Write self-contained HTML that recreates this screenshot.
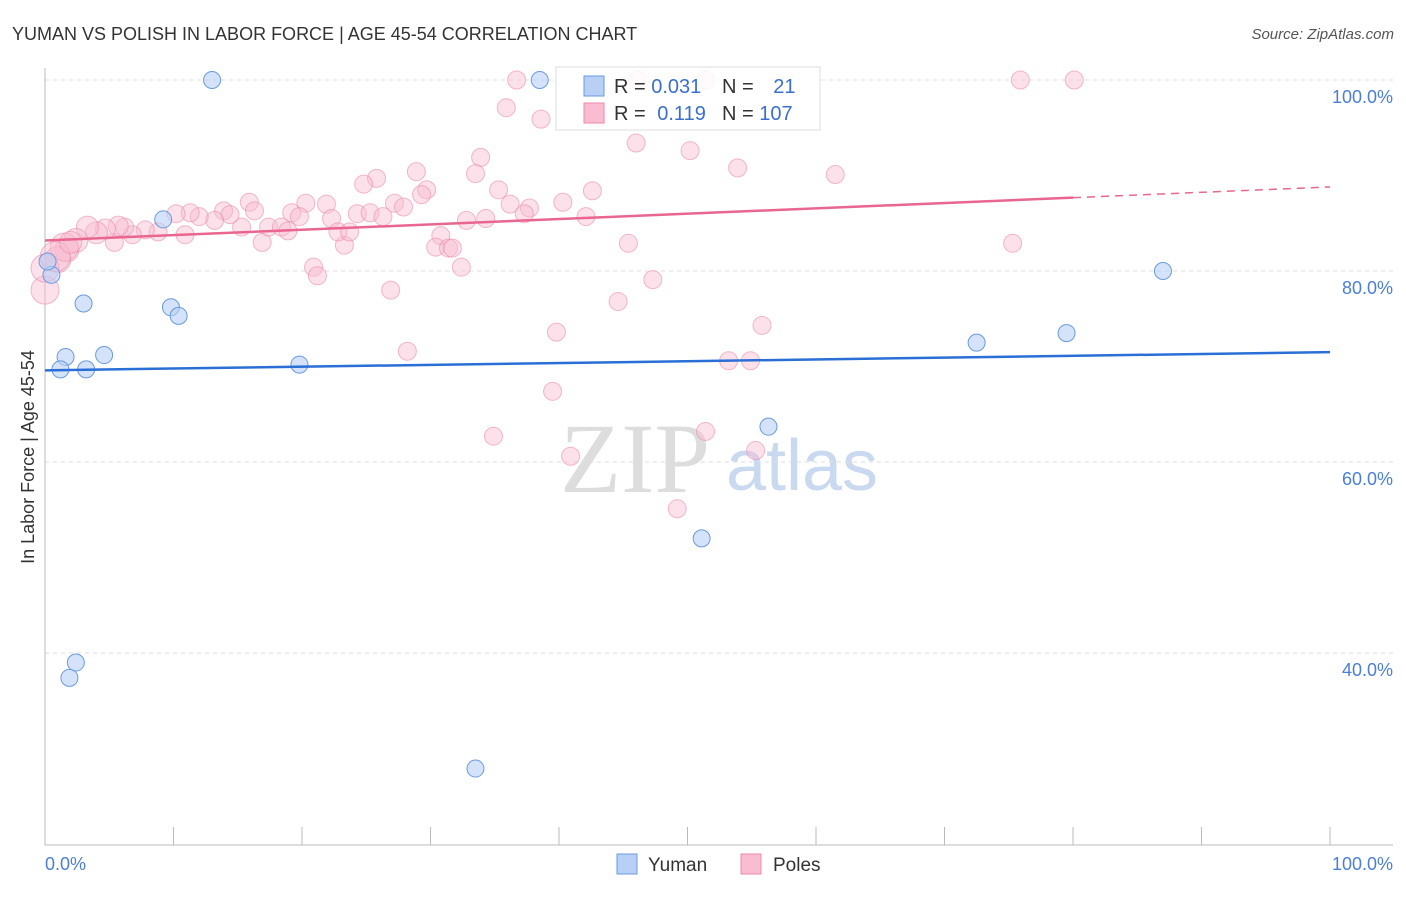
<!DOCTYPE html>
<html><head><meta charset="utf-8"><style>
body{margin:0;background:#fff;font-family:"Liberation Sans",sans-serif}
svg text{font-family:"Liberation Sans",sans-serif}
</style></head><body>
<svg id="c" width="1406" height="892" xmlns="http://www.w3.org/2000/svg">
<text x="12" y="40" font-size="18" fill="#333">YUMAN VS POLISH IN LABOR FORCE | AGE 45-54 CORRELATION CHART</text>
<text x="1394" y="39" font-size="15" fill="#555" text-anchor="end" font-style="italic">Source: ZipAtlas.com</text>
<text x="635" y="492" font-size="100" fill="#ddd" text-anchor="middle" style="font-family:'Liberation Serif',serif">ZIP</text>
<text x="802" y="490" font-size="72" fill="#c9d9f0" text-anchor="middle">atlas</text>
<text transform="translate(34,457) rotate(-90)" font-size="18" fill="#333" text-anchor="middle">In Labor Force | Age 45-54</text>
<g id="grid"></g><g id="pts"></g><g id="lines"></g>
<g>
<rect x="556" y="67" width="264" height="63" fill="#fff" fill-opacity="0.85" stroke="#ddd"/>
<rect x="584" y="76" width="20" height="20" fill="#b8d0f5" stroke="#6a9ae0"/>
<rect x="584" y="103" width="20" height="20" fill="#f9bcd0" stroke="#ec8aaa"/>
<text x="614" y="93" font-size="20" fill="#333">R = <tspan fill="#3a6fd0">0.031</tspan></text>
<text x="722" y="93" font-size="20" fill="#333">N = <tspan fill="#3a6fd0" dx="14">21</tspan></text>
<text x="614" y="120" font-size="20" fill="#333">R = <tspan fill="#3a6fd0" dx="6">0.119</tspan></text>
<text x="722" y="120" font-size="20" fill="#333">N = <tspan fill="#3a6fd0">107</tspan></text>
</g>
<g>
<rect x="617" y="854" width="20" height="20" fill="#b8d0f5" stroke="#6a9ae0"/>
<text x="648" y="871" font-size="19" fill="#333">Yuman</text>
<rect x="741" y="854" width="20" height="20" fill="#f9bcd0" stroke="#ec8aaa"/>
<text x="773" y="871" font-size="19" fill="#333">Poles</text>
</g>
</svg>
<script>
const yTicks=[100,80,60,40];
const yTickLabels=["100.0%","80.0%","60.0%","40.0%"];
const yumanX=[13.0,38.5,0.5,3.0,9.8,10.4,1.6,4.6,1.2,3.2,19.8,72.5,79.5,87.0,56.3,51.1,2.4,1.9,33.5,9.2,0.2];
const yumanY=[100,100,79.6,76.6,76.2,75.3,71.0,71.2,69.7,69.7,70.2,72.5,73.5,80.0,63.7,52.0,39.0,37.4,27.9,85.4,81.0];
const polesX=[36.7,35.9,38.6,46.0,50.2,33.9,33.5,28.9,25.8,24.8,29.7,29.3,35.3,42.6,36.2,37.7,37.3,40.3,42.1,32.8,34.3,21.9,20.3,22.3,24.3,25.3,26.3,27.2,27.9,30.8,30.4,31.4,31.7,32.4,45.4,47.3,44.6,39.8,28.2,26.9,20.9,21.2,39.5,23.3,22.8,23.7,15.9,16.3,16.9,19.2,19.8,17.4,18.4,18.9,10.9,15.3,13.9,14.4,13.2,12.0,11.3,10.2,8.8,7.8,6.8,6.2,5.4,5.7,4.7,4.0,3.3,2.4,1.7,1.0,0,0,75.9,80.1,53.9,61.5,75.3,55.8,53.2,54.9,46.1,51.4,43.0,40.9,51.4,55.3,49.2,34.9,1.5,0.8,2.0];
const polesY=[100,97.1,95.9,93.4,92.6,91.9,90.2,90.4,89.7,89.1,88.5,88.0,88.5,88.4,87.0,86.6,86.0,87.2,85.7,85.3,85.5,87.0,87.1,85.5,86.0,86.1,85.7,87.1,86.7,83.7,82.5,82.4,82.4,80.4,82.9,79.1,76.8,73.6,71.6,78.0,80.4,79.5,67.4,82.7,84.1,84.1,87.2,86.3,83.0,86.1,85.7,84.6,84.6,84.2,83.8,84.6,86.3,85.9,85.3,85.7,86.1,86.0,84.1,84.3,83.8,84.6,83.0,84.7,84.4,84.0,84.6,83.2,82.2,81.2,78.0,80.3,100,100,90.8,90.1,82.9,74.3,70.6,70.6,100,100,96.0,60.6,63.2,61.2,55.1,62.7,82.5,81.5,83.0];
const polesR=[9,9,9,9,9,9,9,9,9,9,9,9,9,9,9,9,9,9,9,9,9,9,9,9,9,9,9,9,9,9,9,9,9,9,9,9,9,9,9,9,9,9,9,9,9,9,9,9,9,9,9,9,9,9,9,9,9,9,9,9,9,9,9,9,9,9,9,10,10,11,11,12,12,13,14,14,9,9,9,9,9,9,9,9,9,9,9,9,9,9,9,9,14,15,11];
const trendYuman=[69.6,71.5];
const trendPoles=[83.2,88.8];
const polesSolidEnd=80;
const NS="http://www.w3.org/2000/svg";
const X=v=>45+v*12.85, Y=v=>80+(100-v)*9.55;
function mk(t,a,p){const e=document.createElementNS(NS,t);for(const k in a)e.setAttribute(k,a[k]);p.appendChild(e);return e;}
const g=document.getElementById('grid');
yTicks.forEach((t,i)=>{const l=mk('line',{x1:45,x2:1393,y1:Y(t),y2:Y(t),stroke:'#ddd','stroke-dasharray':'4 4'},g);


const tx=mk('text',{x:1393,y:Y(t)+23,'font-size':18,fill:'#4a7fd6','text-anchor':'end'},g);tx.textContent=yTickLabels[i];

});
const ax=mk('path',{d:'M45 68V845H1393',stroke:'#bbb',fill:'none'},g);


for(let i=0;i<=10;i++){const t=mk('line',{x1:X(i*10),x2:X(i*10),y1:827,y2:845,stroke:'#bbb'},g);

}
[[0,"0.0%",'start',45],[100,"100.0%",'end',1393]].forEach(a=>{const t=mk('text',{x:a[3],y:870,'font-size':18,fill:'#4a7fd6','text-anchor':a[2]},g);t.textContent=a[1];

});
const p=document.getElementById('pts');
polesX.forEach((x,i)=>{const c=mk('circle',{cx:X(x),cy:Y(polesY[i]),r:polesR[i],fill:'#f9bcd0','fill-opacity':0.45,stroke:'#ec8aaa','stroke-opacity':0.6},p);

});
yumanX.forEach((x,i)=>{const c=mk('circle',{cx:X(x),cy:Y(yumanY[i]),r:8.5,fill:'#b8d0f5','fill-opacity':0.6,stroke:'#6a9ae0'},p);

});
const L=document.getElementById('lines');
const ly=mk('line',{x1:X(0),y1:Y(trendYuman[0]),x2:X(100),y2:Y(trendYuman[1]),stroke:'#2a6fd6','stroke-width':2.5},L);


const pe=trendPoles[0]+(trendPoles[1]-trendPoles[0])*polesSolidEnd/100;
const lp=mk('line',{x1:X(0),y1:Y(trendPoles[0]),x2:X(polesSolidEnd),y2:Y(pe),stroke:'#e8668f','stroke-width':2.5},L);


const ld=mk('line',{x1:X(polesSolidEnd),y1:Y(pe),x2:X(100),y2:Y(trendPoles[1]),stroke:'#e8668f','stroke-width':1.5,'stroke-dasharray':'8 6'},L);


</script>
</body></html>
